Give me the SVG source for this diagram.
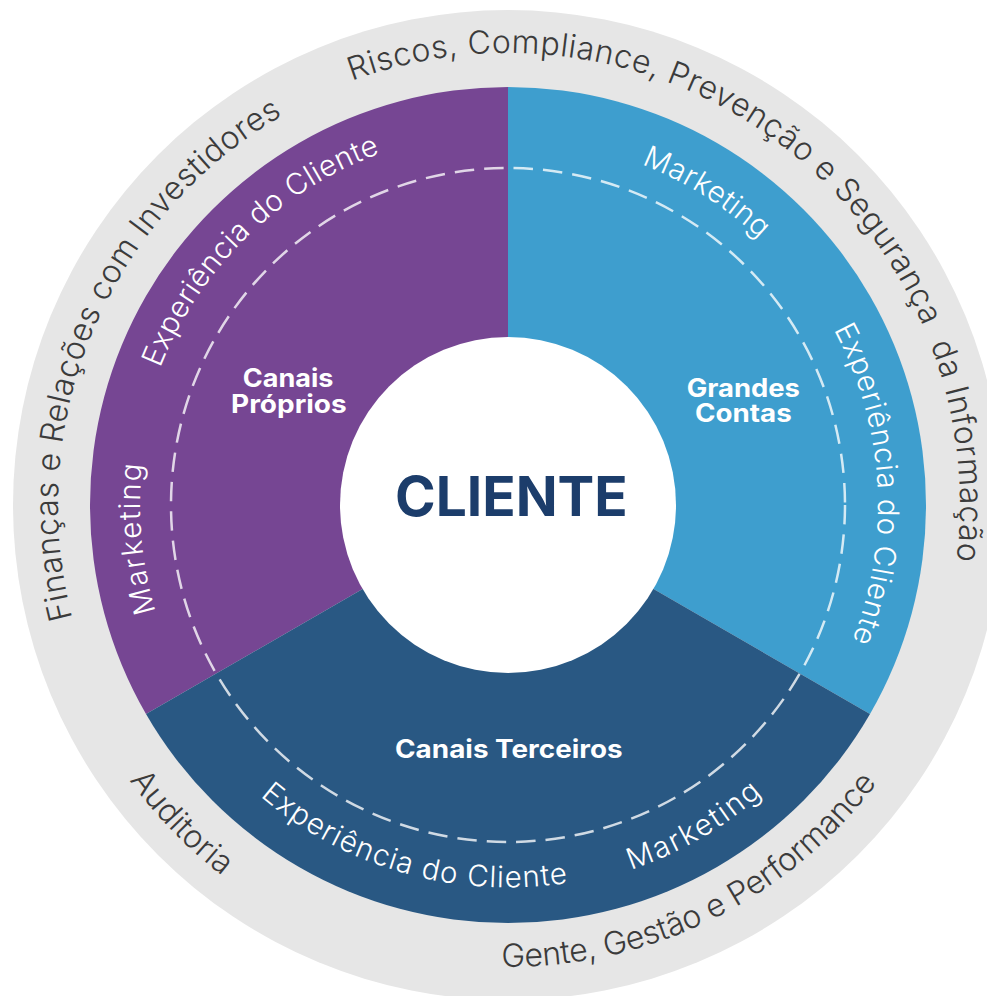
<svg xmlns="http://www.w3.org/2000/svg" width="987" height="996" viewBox="0 0 987 996">
  <style>
    .ring { font-family: "Inter", "Open Sans", "Noto Sans", "Liberation Sans", sans-serif; font-weight: 300; font-size: 32px; fill: #3b3b3b; }
    .inner { font-family: "Inter", "Open Sans", "Noto Sans", "Liberation Sans", sans-serif; font-weight: 300; font-size: 29.5px; fill: #ffffff; }
    .label { font-family: "Inter", "Open Sans", "Noto Sans", "Liberation Sans", sans-serif; font-weight: 700; font-size: 25px; fill: #ffffff; }
    .center { font-family: "Inter", "Open Sans", "Noto Sans", "Liberation Sans", sans-serif; font-weight: 700; font-size: 55px; fill: #1c3d6b; }
    .dash { fill: none; stroke: #ffffff; stroke-opacity: 0.78; stroke-width: 2.5; stroke-dasharray: 19.5 10; }
  </style>
  <defs>
    <path id="pRiscos" d="M351.9 80.8 A452 452 0 0 1 932.7 659.6"/>
    <path id="pFinancas" d="M72.4 618.1 A450 450 0 0 1 354.1 82.1"/>
    <path id="pAuditoria" d="M129.4 780.1 A468 468 0 0 0 347.9 944.8"/>
    <path id="pGente" d="M501.55 966.95 A462 462 0 0 0 926.7 700.2"/>
    <path id="pPurExp" d="M160.0 367.9 A374 374 0 0 1 475.4 132.4"/>
    <path id="pPurMkt" d="M155.8 611.7 A368 368 0 0 1 162.2 379.1"/>
    <path id="pBluMkt" d="M641.5 164.2 A366 366 0 0 1 825.0 322.0"/>
    <path id="pBluExp" d="M833.8 329.6 A370 370 0 0 1 791.4 742.8"/>
    <path id="pNavExp" d="M260.1 796.3 A382.5 382.5 0 0 0 699.3 836.2"/>
    <path id="pNavMkt" d="M631.1 869.8 A385 385 0 0 0 841.4 697.5"/>
  </defs>

  <g id="outer-ring">
    <circle cx="508" cy="505" r="495" fill="#e6e6e6"/>
    <text class="ring" style="white-space:pre"><textPath href="#pRiscos" textLength="925" lengthAdjust="spacing">Riscos, Compliance, Prevenção e Segurança  da Informação</textPath></text>
    <text class="ring"><textPath href="#pFinancas" textLength="585" lengthAdjust="spacing">Finanças e Relações com Investidores</textPath></text>
    <text class="ring"><textPath href="#pAuditoria" textLength="134" lengthAdjust="spacing">Auditoria</textPath></text>
    <text class="ring"><textPath href="#pGente" textLength="434" lengthAdjust="spacing">Gente, Gestão e Performance</textPath></text>
  </g>

  <g id="canais-proprios">
    <path d="M508 505 L146 714 A418 418 0 0 1 508 87 Z" fill="#764693"/>
    <text class="inner"><textPath href="#pPurExp" textLength="316.6" lengthAdjust="spacing">Experiência do Cliente</textPath></text>
    <text class="inner"><textPath href="#pPurMkt" textLength="149" lengthAdjust="spacing">Marketing</textPath></text>
  </g>

  <g id="grandes-contas">
    <path d="M508 505 L508 87 A418 418 0 0 1 870 714 Z" fill="#3e9ece"/>
    <text class="inner"><textPath href="#pBluMkt" textLength="140.5" lengthAdjust="spacing">Marketing</textPath></text>
    <text class="inner"><textPath href="#pBluExp" textLength="321.6" lengthAdjust="spacing">Experiência do Cliente</textPath></text>
  </g>

  <g id="canais-terceiros">
    <path d="M508 505 L870 714 A418 418 0 0 1 146 714 Z" fill="#295883"/>
    <text class="inner"><textPath href="#pNavExp" textLength="329.8" lengthAdjust="spacing">Experiência do Cliente</textPath></text>
    <text class="inner"><textPath href="#pNavMkt" textLength="152.3" lengthAdjust="spacing">Marketing</textPath></text>
  </g>

  <g id="dashed-ring">
    <circle class="dash" cx="508" cy="505" r="337"/>
  </g>

  <g id="labels">
    <text class="label" x="242.7" y="387.3" textLength="90.7" lengthAdjust="spacingAndGlyphs">Canais</text>
    <text class="label" x="231" y="413.3" textLength="115.7" lengthAdjust="spacingAndGlyphs">Próprios</text>
    <text class="label" x="686.7" y="396.7" textLength="113.3" lengthAdjust="spacingAndGlyphs">Grandes</text>
    <text class="label" x="695" y="421.7" textLength="96.7" lengthAdjust="spacingAndGlyphs">Contas</text>
    <text class="label" x="395" y="758.3" textLength="227.7" lengthAdjust="spacingAndGlyphs">Canais Terceiros</text>
  </g>

  <g id="cliente">
    <circle cx="508" cy="505" r="168" fill="#ffffff"/>
    <text class="center" x="395" y="516" textLength="232.7" lengthAdjust="spacingAndGlyphs">CLIENTE</text>
  </g>
</svg>
